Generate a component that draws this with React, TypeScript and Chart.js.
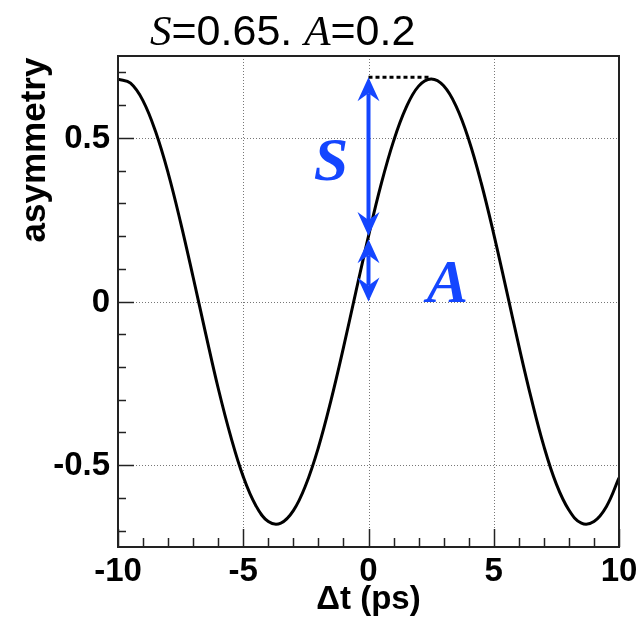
import React, { useEffect, useRef } from "react";
import { Chart, registerables } from "chart.js";

Chart.register(...registerables);

// Δt (ps) sample points and the asymmetry
const dtValues = [
  -10, -9.5, -9, -8.5, -8, -7.5, -7, -6.5, -6, -5.5, -5, -4.5, -4, -3.5, -3, -2.5, -2, -1.5, -1, -0.5,
  0, 0.5, 1, 1.5, 2, 2.5, 3, 3.5, 4, 4.5, 5, 5.5, 6, 6.5, 7, 7.5, 8, 8.5, 9, 9.5, 10,
];
const asymValues = [
  0.679, 0.667, 0.613, 0.519, 0.393, 0.241, 0.074, -0.098, -0.265, -0.412, -0.535, -0.623, -0.672, -0.677,
  -0.639, -0.56, -0.446, -0.303, -0.141, 0.031, 0.2, 0.357, 0.49, 0.592, 0.658, 0.68, 0.659, 0.596, 0.495,
  0.362, 0.206, 0.037, -0.135, -0.297, -0.442, -0.558, -0.637, -0.677, -0.672, -0.626, -0.539,
];

const xMajorTicks = [-10, -5, 0, 5, 10];
const xTickLabels = ["-10", "-5", "0", "5", "10"];
const yMajorTicks = [-0.5, 0, 0.5];
const yTickLabels = ["-0.5", "0", "0.5"];
const xGrid = [-5, 0, 5];
const yGrid = [-0.5, 0, 0.5];

// annotation values
const sArrow = [0.685, 0.2]; // S arrow from peak to A
const aArrow = [0.19, 0.0]; // A arrow from A to 0
const arrowX = 0;
const peakLineX = [0, 2.5];
const peakLineY = 0.685;
const sLabelPos = [-1.5, 0.372];
const aLabelPos = [3.15, 0.0];

const SANS = '"Liberation Sans", Arial, Helvetica, sans-serif';
const SERIF = '"Liberation Serif", "Times New Roman", serif';
const BLUE = "#1446ff";

function drawArrowHead(ctx: CanvasRenderingContext2D, x: number, y: number, dir: number) {
  // dir = -1 pointing up, +1 pointing down
  const len = 24;
  const half = 11;
  const notch = 16;
  ctx.beginPath();
  ctx.moveTo(x, y);
  ctx.lineTo(x - half, y - dir * len);
  ctx.lineTo(x, y - dir * notch);
  ctx.lineTo(x + half, y - dir * len);
  ctx.closePath();
  ctx.fill();
}

function drawDoubleArrow(ctx: CanvasRenderingContext2D, x: number, yTop: number, yBot: number) {
  ctx.save();
  ctx.strokeStyle = BLUE;
  ctx.fillStyle = BLUE;
  ctx.lineWidth = 4;
  ctx.beginPath();
  ctx.moveTo(x, yTop + 16);
  ctx.lineTo(x, yBot - 16);
  ctx.stroke();
  drawArrowHead(ctx, x, yTop, -1);
  drawArrowHead(ctx, x, yBot, 1);
  ctx.restore();
}

const framePlugin = {
  id: "framePlugin",
  beforeDatasetsDraw(chart: any) {
    const { ctx, chartArea: a, scales } = chart;
    const xs = scales.x;
    const ys = scales.y;
    ctx.save();
    ctx.strokeStyle = "#777";
    ctx.lineWidth = 1;
    ctx.setLineDash([1, 2]);
    for (const v of xGrid) {
      const px = Math.round(xs.getPixelForValue(v)) + 0.5;
      ctx.beginPath();
      ctx.moveTo(px, a.top);
      ctx.lineTo(px, a.bottom);
      ctx.stroke();
    }
    for (const v of yGrid) {
      const py = Math.round(ys.getPixelForValue(v)) + 0.5;
      ctx.beginPath();
      ctx.moveTo(a.left, py);
      ctx.lineTo(a.right, py);
      ctx.stroke();
    }
    ctx.restore();
  },
  afterDatasetsDraw(chart: any) {
    const { ctx, chartArea: a, scales } = chart;
    const xs = scales.x;
    const ys = scales.y;
    ctx.save();
    // frame
    ctx.strokeStyle = "#222";
    ctx.lineWidth = 2;
    ctx.setLineDash([]);
    ctx.strokeRect(a.left, a.top, a.right - a.left, a.bottom - a.top);
    // x ticks
    ctx.lineWidth = 1.5;
    for (let v = -10; v <= 10; v += 1) {
      const px = Math.round(xs.getPixelForValue(v)) + 0.5;
      const len = v % 5 === 0 ? 18 : 9;
      ctx.beginPath();
      ctx.moveTo(px, a.bottom);
      ctx.lineTo(px, a.bottom - len);
      ctx.stroke();
    }
    // y ticks
    for (let i = -7; i <= 7; i++) {
      const v = i / 10;
      const py = Math.round(ys.getPixelForValue(v)) + 0.5;
      const len = i % 5 === 0 ? 16 : 8;
      ctx.beginPath();
      ctx.moveTo(a.left, py);
      ctx.lineTo(a.left + len, py);
      ctx.stroke();
    }
    // tick labels
    ctx.fillStyle = "#000";
    ctx.font = `bold 33px ${SANS}`;
    ctx.textAlign = "center";
    ctx.textBaseline = "alphabetic";
    xMajorTicks.forEach((v, i) => {
      ctx.fillText(xTickLabels[i], xs.getPixelForValue(v), a.bottom + 34);
    });
    ctx.textAlign = "right";
    ctx.textBaseline = "middle";
    yMajorTicks.forEach((v, i) => {
      ctx.fillText(yTickLabels[i], a.left - 8, ys.getPixelForValue(v) + 1);
    });
    // axis titles
    ctx.textAlign = "center";
    ctx.textBaseline = "alphabetic";
    ctx.font = `bold 33px ${SANS}`;
    ctx.fillText("Δt (ps)", xs.getPixelForValue(0), 609);
    ctx.save();
    ctx.translate(45, 150);
    ctx.rotate(-Math.PI / 2);
    ctx.font = `bold 35px ${SANS}`;
    ctx.fillText("asymmetry", 0, 0);
    ctx.restore();

    // title
    const parts: [string, string][] = [
      ["S", `italic 43px ${SERIF}`],
      ["=0.65. ", `43px ${SANS}`],
      ["A", `italic 43px ${SERIF}`],
      ["=0.2", `43px ${SANS}`],
    ];
    let tx = 150;
    ctx.textAlign = "left";
    for (const [t, f] of parts) {
      ctx.font = f;
      ctx.fillText(t, tx, 45);
      tx += ctx.measureText(t).width;
    }

    // dotted peak line
    ctx.strokeStyle = "#000";
    ctx.lineWidth = 3;
    ctx.setLineDash([4, 3]);
    ctx.beginPath();
    ctx.moveTo(xs.getPixelForValue(peakLineX[0]), ys.getPixelForValue(peakLineY));
    ctx.lineTo(xs.getPixelForValue(peakLineX[1]), ys.getPixelForValue(peakLineY));
    ctx.stroke();
    ctx.setLineDash([]);

    // arrows
    const ax = xs.getPixelForValue(arrowX);
    drawDoubleArrow(ctx, ax, ys.getPixelForValue(sArrow[0]), ys.getPixelForValue(sArrow[1]));
    drawDoubleArrow(ctx, ax, ys.getPixelForValue(aArrow[0]), ys.getPixelForValue(aArrow[1]));

    // S, A labels
    ctx.fillStyle = BLUE;
    ctx.font = `italic bold 62px ${SERIF}`;
    ctx.textAlign = "center";
    ctx.textBaseline = "alphabetic";
    ctx.fillText("S", xs.getPixelForValue(sLabelPos[0]), ys.getPixelForValue(sLabelPos[1]));
    ctx.fillText("A", xs.getPixelForValue(aLabelPos[0]), ys.getPixelForValue(aLabelPos[1]));
    ctx.restore();
  },
};

export default function App() {
  const ref = useRef<HTMLCanvasElement | null>(null);
  useEffect(() => {
    if (!ref.current) return;
    const chart = new Chart(ref.current, {
      type: "line",
      data: {
        datasets: [
          {
            data: dtValues.map((x, i) => ({ x, y: asymValues[i] })),
            borderColor: "#000",
            borderWidth: 3,
            pointRadius: 0,
            tension: 0.4,
            fill: false,
          },
        ],
      },
      options: {
        animation: false,
        responsive: false,
        maintainAspectRatio: false,
        layout: { padding: { top: 56, right: 25, bottom: 0, left: 0 } },
        plugins: { legend: { display: false }, tooltip: { enabled: false }, title: { display: false } },
        scales: {
          x: {
            type: "linear",
            min: -10,
            max: 10,
            ticks: { display: false },
            grid: { display: false },
            border: { display: false },
            afterFit: (s: any) => {
              s.height = 76;
            },
          },
          y: {
            type: "linear",
            min: -0.75,
            max: 0.75,
            ticks: { display: false },
            grid: { display: false },
            border: { display: false },
            afterFit: (s: any) => {
              s.width = 118;
            },
          },
        },
      },
      plugins: [framePlugin],
    });
    return () => chart.destroy();
  }, []);
  return (
    <div style={{ position: "fixed", left: 0, top: 0, width: 644, height: 623, background: "#fff" }}>
      <canvas ref={ref} width={644} height={623} style={{ width: 644, height: 623 }} />
    </div>
  );
}
